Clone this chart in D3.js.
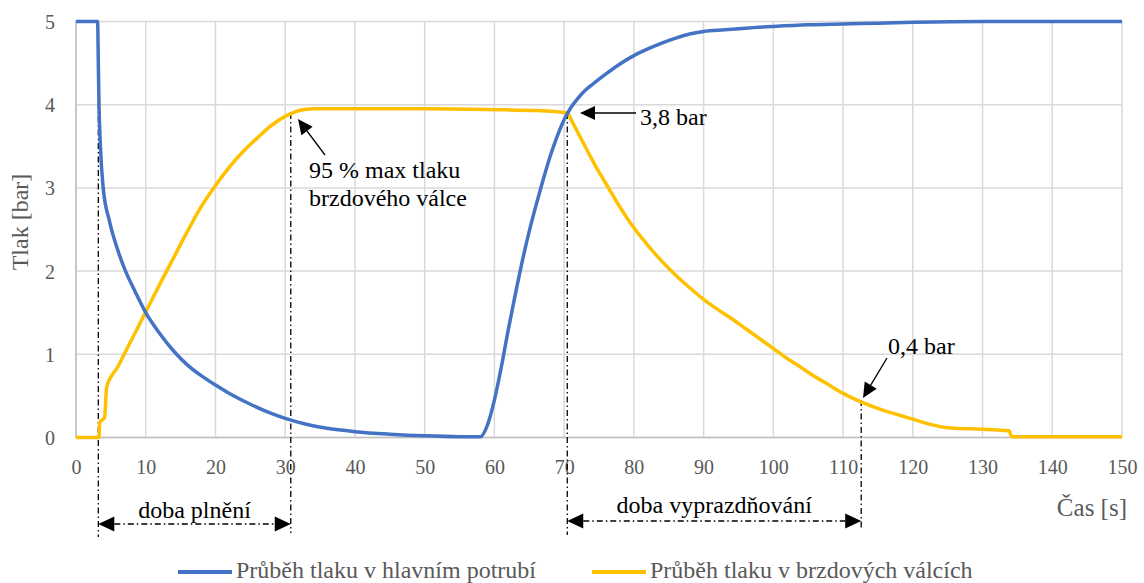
<!DOCTYPE html>
<html>
<head>
<meta charset="utf-8">
<script src="https://cdn.jsdelivr.net/npm/d3@7"></script>
<style>
  html, body { margin: 0; padding: 0; background: #fff; }
  svg { display: block; }
  svg text { font-family: "Liberation Serif", Tinos, "Times New Roman", Times, "DejaVu Serif", serif !important; }
</style>
</head>
<body>
<svg id="chart" width="1144" height="583"></svg>
<script>
// ---- data ----
const xTicks = [0, 10, 20, 30, 40, 50, 60, 70, 80, 90, 100, 110, 120, 130, 140, 150];
const yTicks = [0, 1, 2, 3, 4, 5];

const blueT = [0, 3.1, 3.2, 3.3, 3.5, 3.9, 4.8, 6, 7, 8.5, 10, 12, 14, 16, 18, 20, 22, 25, 28, 30, 33, 36, 40, 45, 50, 55, 58,
  59, 60, 61, 62, 63, 64, 65, 66, 67, 68, 69, 70, 71, 72, 73, 74, 76, 78, 80, 82, 84, 86, 88, 90, 93,
  96, 100, 105, 110, 115, 120, 130, 140, 150];
const blueV = [5, 5, 4.5, 4.0, 3.5, 3.0, 2.6, 2.25, 2.02, 1.75, 1.5, 1.25, 1.04, 0.87, 0.74, 0.63, 0.53, 0.4, 0.29, 0.23, 0.16, 0.11, 0.07, 0.04, 0.02, 0.01, 0.01,
  0.15, 0.45, 0.85, 1.3, 1.72, 2.12, 2.48, 2.8, 3.1, 3.38, 3.62, 3.82, 3.97, 4.08, 4.17, 4.24, 4.37, 4.49, 4.59, 4.67, 4.74, 4.8, 4.85, 4.88, 4.9,
  4.92, 4.94, 4.96, 4.97, 4.98, 4.99, 5.0, 5.0, 5.0];

const yellowT = [0, 3.3, 3.4, 4.1, 4.4, 6, 8, 10, 12, 14, 16, 18, 20, 22, 24, 26, 28, 30, 31, 32, 34,
  40, 50, 60, 66, 70.5, 71, 72, 73, 74, 75, 76, 77, 78, 79, 80, 82, 84, 86, 88, 90, 92, 94, 96, 98, 100,
  102, 104, 106, 108, 110, 112, 114, 116, 118, 120, 122, 124, 126, 130, 133.8, 134.2, 140, 150];
const yellowV = [0, 0, 0.18, 0.24, 0.61, 0.85, 1.18, 1.51, 1.84, 2.16, 2.48, 2.78, 3.03, 3.25, 3.44, 3.6, 3.75, 3.86, 3.9, 3.93, 3.95,
  3.95, 3.95, 3.94, 3.93, 3.9, 3.82, 3.66, 3.5, 3.34, 3.19, 3.05, 2.91, 2.77, 2.64, 2.52, 2.31, 2.12, 1.95, 1.8, 1.66, 1.54, 1.43, 1.31, 1.19, 1.07,
  0.95, 0.84, 0.73, 0.63, 0.53, 0.45, 0.38, 0.32, 0.27, 0.22, 0.17, 0.13, 0.11, 0.1, 0.08, 0.01, 0.01, 0.01];

const seriesNames = ["Průběh tlaku v hlavním potrubí", "Průběh tlaku v brzdových válcích"];
const seriesColors = ["#4472C4", "#FFC000"];

// annotation markers (time values)
const markerT = [3.2, 30.8, 70.45, 112.6];
const markerV = [5, 3.9, 3.9, 0.45];

// ---- layout ----
const FONT = '"Liberation Serif", Tinos, "Times New Roman", Times, "DejaVu Serif", serif';
const svg = d3.select("#chart").attr("font-family", FONT);
const pLeft = 76, pRight = 1122, pTop = 21.5, pBottom = 437.5;
const x = d3.scaleLinear().domain([0, 150]).range([pLeft, pRight]);
const y = d3.scaleLinear().domain([0, 5]).range([pBottom, pTop]);
const grey = "#595959";

// grid
svg.append("g").selectAll("line").data(xTicks).join("line")
  .attr("x1", d => x(d)).attr("x2", d => x(d)).attr("y1", pTop).attr("y2", pBottom)
  .attr("stroke", "#d9d9d9").attr("stroke-width", 1.5);
svg.append("g").selectAll("line").data(yTicks).join("line")
  .attr("x1", pLeft).attr("x2", pRight).attr("y1", d => y(d)).attr("y2", d => y(d))
  .attr("stroke", "#d9d9d9").attr("stroke-width", 1.5);
// axis lines
svg.append("line").attr("x1", pLeft).attr("x2", pLeft).attr("y1", pTop).attr("y2", pBottom)
  .attr("stroke", "#bfbfbf").attr("stroke-width", 1.5);
svg.append("line").attr("x1", pLeft).attr("x2", pRight).attr("y1", pBottom).attr("y2", pBottom)
  .attr("stroke", "#bfbfbf").attr("stroke-width", 1.5);

// axes via d3
const xAxis = d3.axisBottom(x).tickValues(xTicks).tickSize(0).tickPadding(0).tickFormat(d3.format("d"));
const gx = svg.append("g").attr("transform", `translate(0,${pBottom})`).call(xAxis)
  .attr("font-family", FONT).attr("font-size", 20);
gx.select(".domain").remove();
gx.selectAll("text").attr("fill", grey).attr("dy", null).attr("y", 36);

const yAxis = d3.axisLeft(y).tickValues(yTicks).tickSize(0).tickPadding(0).tickFormat(d3.format("d"));
const gy = svg.append("g").attr("transform", `translate(55,0)`).call(yAxis)
  .attr("font-family", FONT).attr("font-size", 20);
gy.select(".domain").remove();
gy.selectAll("text").attr("fill", grey).attr("dy", "0.35em").attr("x", 0);

// axis titles
svg.append("text").attr("transform", "translate(28,222) rotate(-90)").attr("text-anchor", "middle")
  .attr("font-size", 24).attr("fill", grey).text("Tlak [bar]");
svg.append("text").attr("x", 1127).attr("y", 516).attr("text-anchor", "end")
  .attr("font-size", 25).attr("fill", grey).text("Čas [s]");

// dash-dot marker lines
const dashDot = "6,3,1.5,3";
const markerBottoms = [537, 533, 535, 530];
markerT.forEach((t, i) => {
  svg.append("line").attr("x1", x(t)).attr("x2", x(t)).attr("y1", y(markerV[i])).attr("y2", markerBottoms[i])
    .attr("stroke", "#000").attr("stroke-width", 1.3).attr("stroke-dasharray", dashDot);
});

// series
const line = d3.line().x(d => x(d[0])).y(d => y(d[1])).curve(d3.curveMonotoneX);
const blueData = blueT.map((t, i) => [t, blueV[i]]);
const yellowData = yellowT.map((t, i) => [t, yellowV[i]]);
svg.append("path").datum(yellowData).attr("d", line).attr("fill", "none")
  .attr("stroke", seriesColors[1]).attr("stroke-width", 3.5).attr("stroke-linejoin", "round");
svg.append("path").datum(blueData).attr("d", line).attr("fill", "none")
  .attr("stroke", seriesColors[0]).attr("stroke-width", 3.5).attr("stroke-linejoin", "round");

// arrow helpers
function arrowHead(x1, y1, x2, y2, len, half) {
  const ang = Math.atan2(y2 - y1, x2 - x1);
  const bx = x2 - len * Math.cos(ang), by = y2 - len * Math.sin(ang);
  const px = -Math.sin(ang) * half, py = Math.cos(ang) * half;
  svg.append("path")
    .attr("d", `M${x2},${y2}L${bx + px},${by + py}L${bx - px},${by - py}Z`)
    .attr("fill", "#000");
  return [bx, by];
}
function arrow(x1, y1, x2, y2) {
  const [bx, by] = arrowHead(x1, y1, x2, y2, 15, 7);
  svg.append("line").attr("x1", x1).attr("y1", y1).attr("x2", bx).attr("y2", by)
    .attr("stroke", "#000").attr("stroke-width", 1.3);
}
function doubleArrow(x1, x2, yy) {
  const [ax] = arrowHead(x2, yy, x1, yy, 16, 7.5);
  const [bx] = arrowHead(x1, yy, x2, yy, 16, 7.5);
  svg.append("line").attr("x1", ax).attr("x2", bx).attr("y1", yy).attr("y2", yy)
    .attr("stroke", "#000").attr("stroke-width", 1.3).attr("stroke-dasharray", dashDot);
}

// annotations
arrow(636, y(3.9), 580, y(3.9));
svg.append("text").attr("x", 640).attr("y", 125).attr("font-size", 24).attr("fill", "#000").text("3,8 bar");

arrow(325, 155, 298, 119);
svg.append("text").attr("x", 309).attr("y", 178).attr("font-size", 24).attr("fill", "#000").text("95 % max tlaku");
svg.append("text").attr("x", 309).attr("y", 206).attr("font-size", 24).attr("fill", "#000").text("brzdového válce");

arrow(887, 358, 863, 398);
svg.append("text").attr("x", 888).attr("y", 354).attr("font-size", 24).attr("fill", "#000").text("0,4 bar");

doubleArrow(x(markerT[0]), x(markerT[1]), 524);
svg.append("text").attr("x", (x(markerT[0]) + x(markerT[1])) / 2).attr("y", 518).attr("text-anchor", "middle")
  .attr("font-size", 24).attr("fill", "#000").text("doba plnění");

doubleArrow(x(markerT[2]), x(markerT[3]), 521);
svg.append("text").attr("x", (x(markerT[2]) + x(markerT[3])) / 2).attr("y", 513).attr("text-anchor", "middle")
  .attr("font-size", 24).attr("fill", "#000").text("doba vyprazdňování");

// legend
const legX = [178, 592];
seriesNames.forEach((name, i) => {
  svg.append("line").attr("x1", legX[i]).attr("x2", legX[i] + 54).attr("y1", 572).attr("y2", 572)
    .attr("stroke", seriesColors[i]).attr("stroke-width", 4);
  svg.append("text").attr("x", legX[i] + 58).attr("y", 578).attr("font-size", 24).attr("fill", grey).text(name);
});
</script>
</body>
</html>
